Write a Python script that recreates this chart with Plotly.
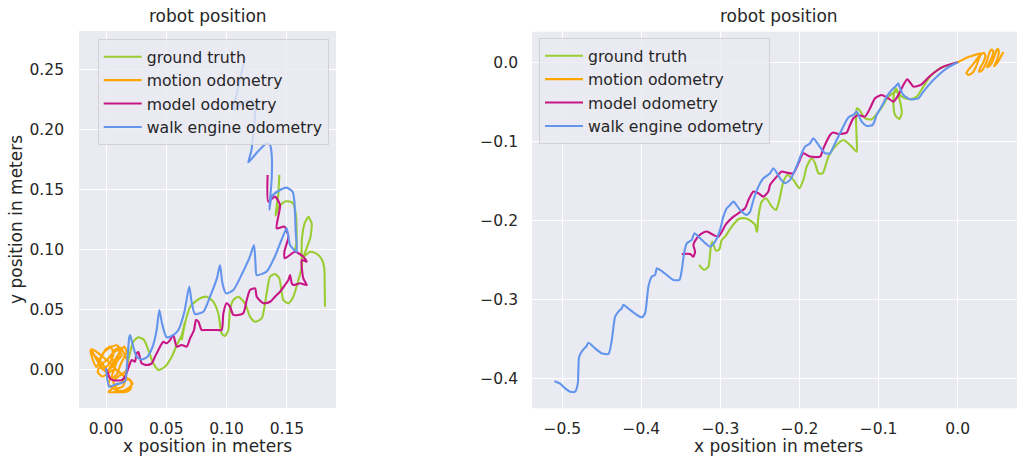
import plotly.graph_objects as go

# ---------------- trajectory data (meters) ----------------
SERIES = ["ground truth", "motion odometry", "model odometry", "walk engine odometry"]
COLORS = ["#9ACD32", "#FFA500", "#C71585", "#6495ED"]

# Left run
left_truth_x = [0.0130, 0.0158, 0.0185, 0.0226, 0.0268, 0.0315, 0.0351, 0.0392, 0.0434, 0.0489, 0.0545, 0.0586,
                0.0628, 0.0697, 0.0780, 0.0835, 0.0890, 0.0931, 0.0959, 0.0987, 0.1014, 0.1028, 0.1056, 0.1097,
                0.1153, 0.1194, 0.1236, 0.1291, 0.1332, 0.1360, 0.1401, 0.1437, 0.1470, 0.1512, 0.1553, 0.1595,
                0.1625, 0.1622, 0.1625, 0.1645, 0.1678, 0.1705, 0.1695, 0.1660, 0.1640, 0.1692, 0.1745, 0.1790,
                0.1810, 0.1813, 0.1816, None,
                0.1437, 0.1428, 0.1405, 0.1435, 0.1490, 0.1545, 0.1570, 0.1580, 0.1578, 0.1567, None,
                0.0628, 0.0655]
left_truth_y = [-0.0100, -0.0075, 0.0078, 0.0230, 0.0267, 0.0244, 0.0161, 0.0050, -0.0006, 0.0022, 0.0105, 0.0203,
                0.0286, 0.0522, 0.0592, 0.0605, 0.0563, 0.0467, 0.0300, 0.0278, 0.0328, 0.0494, 0.0578, 0.0605,
                0.0550, 0.0439, 0.0397, 0.0425, 0.0633, 0.0772, 0.0794, 0.0758, 0.0578, 0.0550, 0.0605, 0.0744,
                0.0860, 0.0970, 0.1090, 0.1210, 0.1270, 0.1215, 0.1100, 0.1000, 0.0940, 0.0980, 0.0965, 0.0915,
                0.0840, 0.0700, 0.0522, None,
                0.1620, 0.1450, 0.1280, 0.1360, 0.1400, 0.1390, 0.1320, 0.1180, 0.1050, 0.0990, None,
                0.0244, 0.0397]

left_motion_x = [0.000, -0.004, -0.010, -0.013, -0.011, -0.008, -0.004, 0.000, 0.004, 0.006, 0.002, -0.003,
                 -0.006, -0.002, 0.003, 0.009, 0.012, 0.008, 0.004, 0.001, 0.004, 0.009, 0.012, 0.015, 0.017,
                 0.015, 0.011, 0.008, 0.005, 0.002, 0.006, 0.012, 0.018, 0.022, 0.019, 0.014, 0.009, 0.004,
                 0.002, 0.008, 0.015, 0.020, 0.021, 0.016, 0.010, 0.005, -0.001, -0.007, -0.012, -0.009,
                 -0.005, 0.000, 0.005, 0.010, 0.013, 0.010, 0.005, 0.001, -0.004, -0.007, -0.003, 0.002,
                 0.007, 0.012, 0.016, 0.014, 0.009, 0.006, 0.010, 0.016, 0.019, 0.016, 0.012, 0.007, 0.004, 0.008]
left_motion_y = [0.000, 0.006, 0.012, 0.016, 0.008, 0.002, 0.010, 0.017, 0.019, 0.012, 0.004, 0.000,
                 0.006, 0.014, 0.018, 0.020, 0.016, 0.009, 0.003, -0.004, -0.008, -0.004, 0.004, 0.010, 0.015,
                 0.019, 0.013, 0.004, -0.005, -0.012, -0.016, -0.018, -0.016, -0.012, -0.008, -0.010, -0.013,
                 -0.017, -0.019, -0.019, -0.019, -0.017, -0.011, -0.006, -0.002, 0.004, 0.009, 0.014, 0.017,
                 0.010, 0.004, -0.002, 0.002, 0.008, 0.012, 0.016, 0.013, 0.008, 0.004, -0.002, -0.006, -0.003,
                 0.000, -0.003, -0.008, -0.014, -0.016, -0.010, -0.006, -0.002, 0.004, 0.011, 0.018, 0.016,
                 0.010, 0.006]

left_model_x = [0.0000, 0.0005, 0.0033, 0.0061, 0.0130, 0.0158, 0.0194, 0.0213, 0.0240, 0.0254, 0.0268, 0.0296,
                0.0337, 0.0379, 0.0406, 0.0448, 0.0475, 0.0503, 0.0531, 0.0558, 0.0586, 0.0628, 0.0669, 0.0697,
                0.0730, 0.0746, 0.0766, 0.0793, 0.0821, 0.0862, 0.0918, 0.0959, 0.0973, 0.1000, 0.1028, 0.1056,
                0.1097, 0.1138, 0.1167, 0.1194, 0.1236, 0.1250, 0.1305, 0.1360, 0.1401, 0.1443, 0.1484, 0.1512,
                0.1526, 0.1540, 0.1553, 0.1609, 0.1664, 0.1636, 0.1623, 0.1664, 0.1636, 0.1567, 0.1484, 0.1479,
                0.1512, 0.1479, 0.1415, 0.1443, 0.1401, 0.1346, 0.1340]
left_model_y = [0.0000, -0.0006, -0.0075, -0.0090, -0.0090, -0.0061, 0.0036, 0.0078, 0.0064, 0.0133, 0.0144,
                0.0050, 0.0036, 0.0050, 0.0105, 0.0189, 0.0230, 0.0217, 0.0244, 0.0286, 0.0189, 0.0203, 0.0189,
                0.0258, 0.0328, 0.0411, 0.0397, 0.0328, 0.0328, 0.0328, 0.0328, 0.0328, 0.0467, 0.0550, 0.0522,
                0.0453, 0.0453, 0.0467, 0.0578, 0.0661, 0.0675, 0.0605, 0.0550, 0.0563, 0.0605, 0.0647, 0.0703,
                0.0744, 0.0786, 0.0717, 0.0703, 0.0717, 0.0703, 0.0758, 0.0911, 0.0897, 0.0939, 0.0980, 0.0925,
                0.0980, 0.1106, 0.1189, 0.1175, 0.1369, 0.1439, 0.1397, 0.1620]

left_walk_x = [0.0000, 0.0027, 0.0080, 0.0116, 0.0158, 0.0175, 0.0193, 0.0200, 0.0215, 0.0254, 0.0296, 0.0343,
               0.0390, 0.0420, 0.0442, 0.0465, 0.0503, 0.0558, 0.0600, 0.0650, 0.0690, 0.0710, 0.0738, 0.0807,
               0.0860, 0.0920, 0.0945, 0.0965, 0.0995, 0.1056, 0.1130, 0.1190, 0.1227, 0.1240, 0.1249, 0.1332,
               0.1400, 0.1460, 0.1498, 0.1526, 0.1581, 0.1573, 0.1562, 0.1548, 0.1498, 0.1429, 0.1374, 0.1354,
               0.1374, 0.1374, 0.1360, 0.1332, 0.1263, 0.1180, 0.1205, 0.1225, 0.1238, 0.1210, 0.1120, 0.1056,
               0.1080, 0.1120, 0.1153]
left_walk_y = [0.0010, -0.0145, -0.0125, -0.0117, -0.0100, 0.0050, 0.0270, 0.0286, 0.0230, 0.0105, 0.0083,
               0.0105, 0.0200, 0.0330, 0.0494, 0.0380, 0.0267, 0.0286, 0.0328, 0.0480, 0.0689, 0.0560, 0.0461,
               0.0480, 0.0600, 0.0760, 0.0870, 0.0720, 0.0633, 0.0661, 0.0800, 0.0930, 0.1036, 0.0870, 0.0786,
               0.0814, 0.0940, 0.1090, 0.1175, 0.1036, 0.0980, 0.1147, 0.1397, 0.1480, 0.1514, 0.1486, 0.1439,
               0.1330, 0.1590, 0.1786, 0.1870, 0.1883, 0.1819, 0.1725, 0.1820, 0.2000, 0.2180, 0.2240, 0.2210,
               0.2160, 0.2280, 0.2450, 0.2606]

# Right run
right_truth_x = [0.0, -0.0223, -0.0350, -0.0434, -0.0518, -0.0603, -0.0687, -0.0750, -0.0780, -0.0805, -0.0813,
                 -0.0792, -0.0737, -0.0708, -0.0729, -0.0771, -0.0877, -0.0982, -0.1087, -0.1171, -0.1243,
                 -0.1277, -0.1285, -0.1277, -0.1277, -0.1340, -0.1445, -0.1551, -0.1635, -0.1707, -0.1761,
                 -0.1804, -0.1846, -0.1909, -0.1951, -0.2002, -0.2078, -0.2153, -0.2204, -0.2255, -0.2297,
                 -0.2351, -0.2423, -0.2478, -0.2520, -0.2533, -0.2540, -0.2560, -0.2604, -0.2689, -0.2773,
                 -0.2857, -0.2941, -0.2984, -0.3015, -0.3055, -0.3085, -0.3105, -0.3125, -0.3152, -0.3207, -0.3270]
right_truth_y = [0.0, -0.0076, -0.0181, -0.0308, -0.0435, -0.0468, -0.0447, -0.0392, -0.0329, -0.0392, -0.0519,
                 -0.0667, -0.0717, -0.0646, -0.0498, -0.0371, -0.0435, -0.0603, -0.0722, -0.0709, -0.0603,
                 -0.0582, -0.0730, -0.0983, -0.1131, -0.1068, -0.0983, -0.1068, -0.1194, -0.1405, -0.1405,
                 -0.1278, -0.1215, -0.1321, -0.1489, -0.1595, -0.1489, -0.1426, -0.1511, -0.1743, -0.1869,
                 -0.1827, -0.1722, -0.1764, -0.1954, -0.2122, -0.2150, -0.2060, -0.2016, -0.1975, -0.1987,
                 -0.2080, -0.2207, -0.2249, -0.2370, -0.2385, -0.2320, -0.2268, -0.2360, -0.2586, -0.2629, -0.2565]

right_motion_x = [0.000, 0.006, 0.012, 0.018, 0.024, 0.029, 0.025, 0.019, 0.014, 0.011, 0.014, 0.019, 0.023,
                  0.026, 0.029, 0.033, 0.035, 0.032, 0.028, 0.027, 0.031, 0.035, 0.038, 0.040, 0.043, 0.045,
                  0.043, 0.039, 0.037, 0.040, 0.044, 0.047, 0.049, 0.051, 0.052, 0.050, 0.047, 0.046, 0.049,
                  0.053, 0.056, 0.058]
right_motion_y = [0.000, 0.003, 0.006, 0.008, 0.010, 0.011, 0.005, -0.003, -0.009, -0.014, -0.016, -0.013,
                  -0.006, 0.002, 0.009, 0.012, 0.008, -0.001, -0.008, -0.012, -0.010, -0.003, 0.005, 0.012,
                  0.016, 0.014, 0.006, -0.002, -0.006, -0.005, 0.001, 0.009, 0.015, 0.017, 0.012, 0.004, -0.003,
                  -0.005, -0.002, 0.004, 0.010, 0.013]

right_model_x = [0.0, -0.0181, -0.0350, -0.0468, -0.0560, -0.0636, -0.0687, -0.0750, -0.0813, -0.0877, -0.0961,
                 -0.1045, -0.1108, -0.1172, -0.1256, -0.1319, -0.1370, -0.1403, -0.1509, -0.1572, -0.1614,
                 -0.1698, -0.1740, -0.1867, -0.1951, -0.2014, -0.2078, -0.2162, -0.2225, -0.2288, -0.2373,
                 -0.2394, -0.2457, -0.2520, -0.2583, -0.2646, -0.2689, -0.2836, -0.2930, -0.3026, -0.3089,
                 -0.3173, -0.3236, -0.3300, -0.3342, -0.3321, -0.3342, -0.3384, -0.3489]
right_model_y = [0.0, -0.0055, -0.0173, -0.0287, -0.0308, -0.0215, -0.0287, -0.0414, -0.0498, -0.0456, -0.0414,
                 -0.0456, -0.0582, -0.0688, -0.0667, -0.0709, -0.0814, -0.0890, -0.0907, -0.0890, -0.0920,
                 -0.1089, -0.1194, -0.1194, -0.1152, -0.1278, -0.1405, -0.1397, -0.1384, -0.1447, -0.1553,
                 -0.1637, -0.1700, -0.1658, -0.1637, -0.1743, -0.1848, -0.1954, -0.2050, -0.2207, -0.2186,
                 -0.2143, -0.2165, -0.2228, -0.2312, -0.2397, -0.2460, -0.2426, -0.2426]

right_walk_x = [0.0, -0.0139, -0.0308, -0.0434, -0.0497, -0.0603, -0.0687, -0.0740, -0.0750, -0.0780, -0.0813,
                -0.0898, -0.0940, -0.1024, -0.1075, -0.1150, -0.1214, -0.1277, -0.1319, -0.1370, -0.1403,
                -0.1488, -0.1572, -0.1614, -0.1677, -0.1761, -0.1825, -0.1867, -0.1930, -0.1972, -0.2056,
                -0.2120, -0.2183, -0.2246, -0.2330, -0.2373, -0.2457, -0.2520, -0.2583, -0.2625, -0.2668,
                -0.2752, -0.2836, -0.2878, -0.2920, -0.2963, -0.3005, -0.3068, -0.3131, -0.3257, -0.3329,
                -0.3363, -0.3426, -0.3460, -0.3489, -0.3519, -0.3595, -0.3679, -0.3763, -0.3805, -0.3826,
                -0.3869, -0.3911, -0.3953, -0.3995, -0.4058, -0.4142, -0.4227, -0.4248, -0.4290, -0.4332,
                -0.4374, -0.4416, -0.4501, -0.4585, -0.4669, -0.4699, -0.4741, -0.4787, -0.4804, -0.4838,
                -0.4901, -0.4964, -0.5027, -0.5099]
right_walk_y = [0.0, -0.0076, -0.0224, -0.0371, -0.0456, -0.0468, -0.0414, -0.0300, -0.0266, -0.0300, -0.0329,
                -0.0435, -0.0519, -0.0667, -0.0793, -0.0806, -0.0751, -0.0624, -0.0667, -0.0688, -0.0730,
                -0.0899, -0.1068, -0.1152, -0.1152, -0.1046, -0.0962, -0.1025, -0.1068, -0.1152, -0.1363,
                -0.1489, -0.1532, -0.1468, -0.1342, -0.1405, -0.1468, -0.1574, -0.1743, -0.1890, -0.1932,
                -0.1869, -0.1764, -0.1806, -0.1848, -0.1954, -0.2122, -0.2270, -0.2333, -0.2228, -0.2165,
                -0.2249, -0.2291, -0.2418, -0.2629, -0.2755, -0.2755, -0.2692, -0.2629, -0.2608, -0.2692,
                -0.2713, -0.2840, -0.3177, -0.3228, -0.3198, -0.3135, -0.3071, -0.3114, -0.3156, -0.3219,
                -0.3515, -0.3692, -0.3684, -0.3622, -0.3550, -0.3601, -0.3643, -0.3727, -0.4068, -0.4169,
                -0.4169, -0.4127, -0.4068, -0.4038]

LEFT_XTICKS = [0.00, 0.05, 0.10, 0.15]
LEFT_YTICKS = [0.00, 0.05, 0.10, 0.15, 0.20, 0.25]
RIGHT_XTICKS = [-0.5, -0.4, -0.3, -0.2, -0.1, 0.0]
RIGHT_YTICKS = [-0.4, -0.3, -0.2, -0.1, 0.0]

# ---------------- figure ----------------
W, H = 1017, 464
FONT = "DejaVu Sans"
INK = "#262626"
PANEL = "#EAEAF2"


def px_x(p):
    return p / W


def px_y(p):
    return 1 - p / H


fig = go.Figure()

left_sets = [(left_truth_x, left_truth_y), (left_motion_x, left_motion_y),
             (left_model_x, left_model_y), (left_walk_x, left_walk_y)]
right_sets = [(right_truth_x, right_truth_y), (right_motion_x, right_motion_y),
              (right_model_x, right_model_y), (right_walk_x, right_walk_y)]

for name, color, (xs, ys) in zip(SERIES, COLORS, left_sets):
    fig.add_trace(go.Scatter(x=xs, y=ys, mode="lines", name=name, legend="legend",
                             line=dict(color=color, width=2.1, shape="spline", smoothing=0.6),
                             xaxis="x", yaxis="y"))
for name, color, (xs, ys) in zip(SERIES, COLORS, right_sets):
    fig.add_trace(go.Scatter(x=xs, y=ys, mode="lines", name=name, legend="legend2",
                             line=dict(color=color, width=2.1, shape="spline", smoothing=0.6),
                             xaxis="x2", yaxis="y2"))

axis_common = dict(showgrid=True, gridcolor="white", gridwidth=1.4, zeroline=False, showline=False,
                   ticks="", tickfont=dict(family=FONT, size=15.5, color=INK), fixedrange=True)

legend_common = dict(xanchor="left", yanchor="top",
                     bgcolor="rgba(234,234,242,0.8)", bordercolor="rgba(204,204,204,0.8)", borderwidth=1,
                     font=dict(family=FONT, size=15.7, color=INK), tracegroupgap=0, itemwidth=38)

fig.update_layout(
    width=W, height=H,
    margin=dict(l=0, r=0, t=0, b=0),
    paper_bgcolor="white",
    plot_bgcolor=PANEL,
    showlegend=True,
    xaxis=dict(domain=[px_x(79), px_x(336)], range=[-0.0224, 0.1907], anchor="y",
               tickvals=LEFT_XTICKS, tickformat=".2f", ticklabelstandoff=9, **axis_common),
    yaxis=dict(domain=[px_y(408), px_y(31)], range=[-0.0322, 0.2819], anchor="x",
               tickvals=LEFT_YTICKS, tickformat=".2f", ticklabelstandoff=14, **axis_common),
    xaxis2=dict(domain=[px_x(532), 1.0], range=[-0.5383, 0.075], anchor="y2",
                tickvals=RIGHT_XTICKS, tickformat=".1f", ticklabelstandoff=9, **axis_common),
    yaxis2=dict(domain=[px_y(408.3), px_y(31.7)], range=[-0.438, 0.0387], anchor="x2",
                tickvals=RIGHT_YTICKS, tickformat=".1f", ticklabelstandoff=13, **axis_common),
    legend=dict(x=px_x(97.7), y=px_y(39), **legend_common),
    legend2=dict(x=px_x(539), y=px_y(38), **legend_common),
)

label_font = dict(family=FONT, size=17, color=INK)
annotations = [
    dict(text="robot position", x=px_x(207.5), y=px_y(16)),
    dict(text="robot position", x=px_x(778.7), y=px_y(16)),
    dict(text="x position in meters", x=px_x(207.5), y=px_y(446)),
    dict(text="x position in meters", x=px_x(778.5), y=px_y(446)),
    dict(text="y position in meters", x=px_x(16), y=px_y(220), textangle=-90),
]
for a in annotations:
    fig.add_annotation(xref="paper", yref="paper", showarrow=False, xanchor="center", yanchor="middle",
                       font=label_font, **a)

fig.write_html("out.html")
